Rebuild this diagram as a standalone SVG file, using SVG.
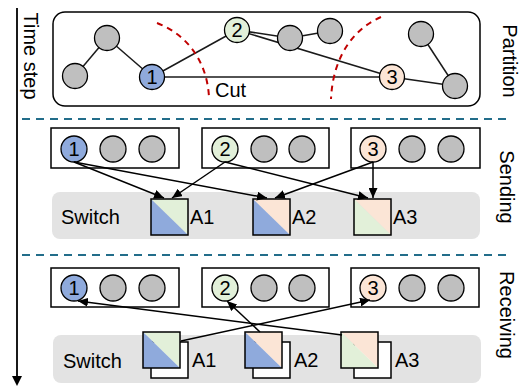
<svg xmlns="http://www.w3.org/2000/svg" width="527" height="387" viewBox="0 0 527 387">
<defs>
<style>
text{font-family:"Liberation Sans",Arial,sans-serif;fill:#000}
.lbl{font-size:20px}
.num{font-size:20px;text-anchor:middle}
.g{fill:#bfbfbf;stroke:#000;stroke-width:1.3}
.b{fill:#8faadc;stroke:#000;stroke-width:1.3}
.gr{fill:#e2f0d9;stroke:#000;stroke-width:1.3}
.pe{fill:#fbe5d6;stroke:#000;stroke-width:1.3}
.e{stroke:#1a1a1a;stroke-width:1.5;fill:none}
.a{stroke:#000;stroke-width:1.5;fill:none;marker-end:url(#ah)}
.box{fill:#fff;stroke:#000;stroke-width:1.5}
.sq{stroke:#000;stroke-width:1.5;fill:none}
.cut{stroke:#c00000;stroke-width:2;fill:none;stroke-dasharray:6 5}
.sep{stroke:#226d8a;stroke-width:2.2;stroke-dasharray:8 6}
.panel{fill:#e3e3e3}
</style>
<marker id="ah" markerUnits="userSpaceOnUse" markerWidth="11" markerHeight="9" refX="10" refY="4.5" orient="auto">
<path d="M0,0 L10,4.5 L0,9 z" fill="#000"/>
</marker>
</defs>

<!-- time axis -->
<g id="time-axis">
<line x1="17" y1="8" x2="17" y2="378" stroke="#000" stroke-width="1.8"/>
<path d="M12,376 L17,386 L22,376 z" fill="#000"/>
<text class="lbl" transform="translate(24,56) rotate(90)" text-anchor="middle">Time step</text>
</g>

<!-- section labels -->
<text class="lbl" transform="translate(503,61) rotate(90)" text-anchor="middle">Partition</text>
<text class="lbl" transform="translate(500,187) rotate(90)" text-anchor="middle">Sending</text>
<text class="lbl" transform="translate(500,315) rotate(90)" text-anchor="middle">Receiving</text>

<!-- separators -->
<line class="sep" x1="22" y1="119" x2="512" y2="119"/>
<line class="sep" x1="22" y1="255" x2="512" y2="255"/>

<!-- partition -->
<g id="partition">
<rect x="53" y="12" width="427" height="94" rx="12" fill="#fff" stroke="#000" stroke-width="1.5"/>
<g id="partition-edges">
<line class="e" x1="107" y1="38" x2="75" y2="76"/>
<line class="e" x1="107" y1="38" x2="152" y2="77"/>
<line class="e" x1="152" y1="77" x2="237" y2="30"/>
<line class="e" x1="152" y1="77" x2="392" y2="77"/>
<line class="e" x1="237" y1="30" x2="290" y2="38"/>
<line class="e" x1="290" y1="38" x2="330" y2="31"/>
<line class="e" x1="237" y1="30" x2="392" y2="77"/>
<line class="e" x1="421" y1="34" x2="455" y2="86"/>
<line class="e" x1="392" y1="77" x2="455" y2="86"/>
</g>
<path class="cut" d="M157,23 C188,35 207,62 209,97"/>
<path class="cut" d="M381,17 C355,28 333,55 331,99"/>
<text class="lbl" x="215" y="97">Cut</text>
<g id="p-g1"><circle class="g" cx="107" cy="38" r="12.5"/></g>
<g id="p-g2"><circle class="g" cx="75" cy="76" r="12.5"/></g>
<g id="p-n1"><circle class="b" cx="152" cy="77" r="12.5"/><text class="num" x="152" y="84">1</text></g>
<g id="p-n2"><circle class="gr" cx="237" cy="30" r="12.5"/><text class="num" x="237" y="37">2</text></g>
<g id="p-g3"><circle class="g" cx="290" cy="38" r="12.5"/></g>
<g id="p-g4"><circle class="g" cx="330" cy="31" r="12.5"/></g>
<g id="p-g5"><circle class="g" cx="421" cy="34" r="12.5"/></g>
<g id="p-n3"><circle class="pe" cx="392" cy="77" r="12.5"/><text class="num" x="392" y="84">3</text></g>
<g id="p-g6"><circle class="g" cx="455" cy="86" r="12.5"/></g>
</g>

<!-- sending -->
<g id="sending">
<rect class="panel" x="52" y="192" width="428" height="47" rx="8"/>
<text class="lbl" x="61" y="224">Switch</text>
<g id="s-grp1">
<rect class="box" x="51" y="128" width="128" height="40"/>
<circle class="b" cx="74" cy="149" r="13"/><text class="num" x="74" y="156">1</text>
<circle class="g" cx="113" cy="149" r="13"/>
<circle class="g" cx="152" cy="149" r="13"/>
</g>
<g id="s-grp2">
<rect class="box" x="202" y="128" width="127" height="40"/>
<circle class="gr" cx="225" cy="149" r="13"/><text class="num" x="225" y="156">2</text>
<circle class="g" cx="264" cy="149" r="13"/>
<circle class="g" cx="302" cy="149" r="13"/>
</g>
<g id="s-grp3">
<rect class="box" x="351" y="128" width="129" height="40"/>
<circle class="pe" cx="373" cy="149" r="13"/><text class="num" x="373" y="156">3</text>
<circle class="g" cx="412" cy="149" r="13"/>
<circle class="g" cx="451" cy="149" r="13"/>
</g>
<g id="s-A1">
<path d="M151,199 H188 V235 z" fill="#e2f0d9"/><path d="M151,199 L188,235 H151 z" fill="#8faadc"/>
<rect class="sq" x="151" y="199" width="37" height="36"/>
<text class="lbl" x="190" y="224">A1</text>
</g>
<g id="s-A2">
<path d="M253,199 H290 V235 z" fill="#fbe5d6"/><path d="M253,199 L290,235 H253 z" fill="#8faadc"/>
<rect class="sq" x="253" y="199" width="37" height="36"/>
<text class="lbl" x="292" y="224">A2</text>
</g>
<g id="s-A3">
<path d="M354,199 H391 V235 z" fill="#fbe5d6"/><path d="M354,199 L391,235 H354 z" fill="#e2f0d9"/>
<rect class="sq" x="354" y="199" width="37" height="36"/>
<text class="lbl" x="393" y="224">A3</text>
</g>
</g>

<!-- receiving -->
<g id="receiving">
<rect class="panel" x="53" y="335" width="428" height="48" rx="8"/>
<text class="lbl" x="63" y="368">Switch</text>
<g id="r-grp1">
<rect class="box" x="51" y="268" width="128" height="39"/>
<circle class="b" cx="74" cy="288" r="13"/><text class="num" x="74" y="295">1</text>
<circle class="g" cx="113" cy="288" r="13"/>
<circle class="g" cx="152" cy="288" r="13"/>
</g>
<g id="r-grp2">
<rect class="box" x="202" y="268" width="127" height="39"/>
<circle class="gr" cx="225" cy="288" r="13"/><text class="num" x="225" y="295">2</text>
<circle class="g" cx="264" cy="288" r="13"/>
<circle class="g" cx="302" cy="288" r="13"/>
</g>
<g id="r-grp3">
<rect class="box" x="351" y="268" width="128" height="39"/>
<circle class="pe" cx="373" cy="288" r="13"/><text class="num" x="373" y="295">3</text>
<circle class="g" cx="412" cy="288" r="13"/>
<circle class="g" cx="451" cy="288" r="13"/>
</g>
<g id="r-A1">
<rect class="box" x="151" y="342" width="37" height="36"/>
<path d="M143,332 H180 V368 z" fill="#e2f0d9"/><path d="M143,332 L180,368 H143 z" fill="#8faadc"/>
<rect class="sq" x="143" y="332" width="37" height="36"/>
<text class="lbl" x="192" y="367">A1</text>
</g>
<g id="r-A2">
<rect class="box" x="253" y="342" width="37" height="36"/>
<path d="M245,332 H282 V368 z" fill="#fbe5d6"/><path d="M245,332 L282,368 H245 z" fill="#8faadc"/>
<rect class="sq" x="245" y="332" width="37" height="36"/>
<text class="lbl" x="294" y="367">A2</text>
</g>
<g id="r-A3">
<rect class="box" x="354" y="342" width="37" height="36"/>
<path d="M341,332 H378 V368 z" fill="#fbe5d6"/><path d="M341,332 L378,368 H341 z" fill="#e2f0d9"/>
<rect class="sq" x="341" y="332" width="37" height="36"/>
<text class="lbl" x="395" y="367">A3</text>
</g>
</g>

<!-- connectors -->
<g id="connectors">
<line class="a" x1="74" y1="162" x2="164" y2="198"/>
<line class="a" x1="74" y1="162" x2="267" y2="198"/>
<line class="a" x1="225" y1="162" x2="172" y2="198"/>
<line class="a" x1="225" y1="162" x2="368" y2="198"/>
<line class="a" x1="373" y1="162" x2="275" y2="198"/>
<line class="a" x1="373" y1="162" x2="373" y2="198"/>
<line class="a" x1="181" y1="341" x2="370" y2="300"/>
<line class="a" x1="342" y1="335" x2="78" y2="301"/>
<line class="a" x1="260" y1="332" x2="227" y2="301"/>
</g>
</svg>
